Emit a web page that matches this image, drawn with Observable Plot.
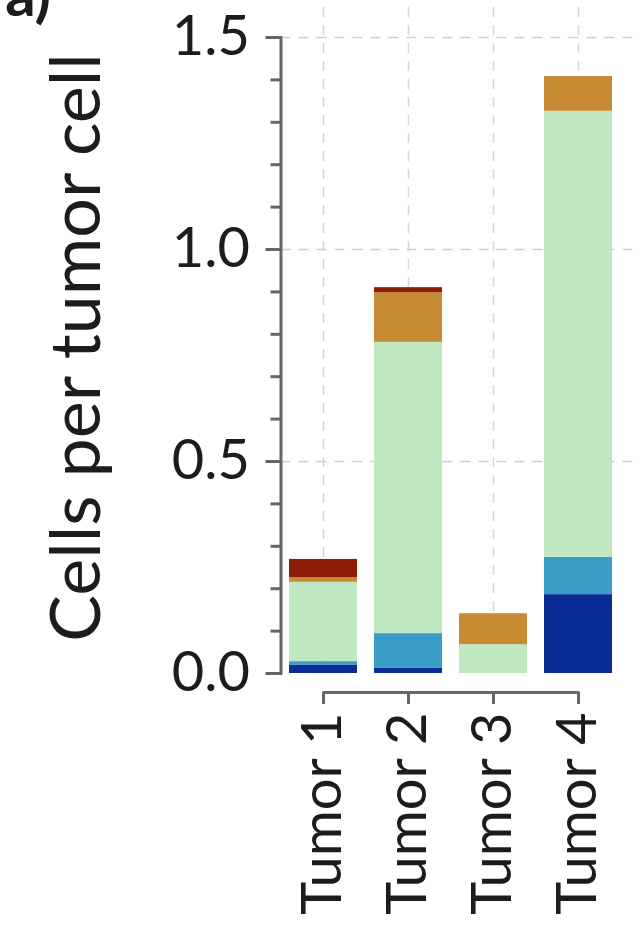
<!DOCTYPE html>
<html>
<head>
<meta charset="utf-8">
<script src="https://cdn.jsdelivr.net/npm/d3@7"></script>
<script src="https://cdn.jsdelivr.net/npm/@observablehq/plot@0.6"></script>
<style>
  html, body { margin: 0; padding: 0; background: #fff; }
  #chart { width: 642px; height: 932px; overflow: hidden; }
</style>
</head>
<body>
<div id="chart"></div>
<script>
// Tumours along the x axis
const tumors = ["Tumor 1", "Tumor 2", "Tumor 3", "Tumor 4"];

// Stacked cell groups, bottom to top, and their fills
const groups = ["A", "B", "C", "D", "E"];
const groupColors = ["#0a2c96", "#3a9dc8", "#bfe8c3", "#c68b33", "#8c1c05"];

// Cells per tumour cell for each group, one value per tumour
const groupA = [0.020, 0.013, 0.000, 0.186];
const groupB = [0.008, 0.081, 0.000, 0.088];
const groupC = [0.187, 0.687, 0.068, 1.052];
const groupD = [0.011, 0.117, 0.073, 0.082];
const groupE = [0.043, 0.012, 0.000, 0.000];

// Axis ticks and labels
const yTicks = [0, 0.5, 1.0, 1.5];
const yGrid = [0.5, 1.0, 1.5];
const yMinorTicks = [0, 0.1, 0.2, 0.3, 0.4, 0.5, 0.6, 0.7, 0.8, 0.9, 1.0, 1.1, 1.2, 1.3, 1.4, 1.5];
const yLabel = "Cells per tumor cell";
const panelLabel = "a)";

const series = [groupA, groupB, groupC, groupD, groupE];
const rows = [];
groups.forEach((g, i) => {
  tumors.forEach((t, j) => rows.push({tumor: t, group: g, value: series[i][j]}));
});

const axisColor = "#666";
const font = "Lato, 'Open Sans', sans-serif";

const chart = Plot.plot({
  width: 642,
  height: 932,
  marginTop: 37,
  marginBottom: 259,
  marginLeft: 280.5,
  marginRight: 21.5,
  style: {fontFamily: font, background: "white", color: "#1c1c1c", overflow: "visible"},
  x: {domain: tumors, paddingInner: 0.2, paddingOuter: 0.1},
  y: {domain: [0, 1.5]},
  color: {domain: groups, range: groupColors},
  marks: [
    Plot.gridY(yGrid, {stroke: "#cfcfcf", strokeOpacity: 1, strokeWidth: 1.5, strokeDasharray: "10,8", insetRight: -14}),
    Plot.gridX(tumors, {stroke: "#d6d6d6", strokeOpacity: 1, strokeWidth: 1.5, strokeDasharray: "10,8", insetTop: -30}),
    Plot.barY(rows, {x: "tumor", y: "value", fill: "group"}),
    Plot.frame({anchor: "left", stroke: axisColor, strokeWidth: 3}),
    Plot.axisY(yMinorTicks, {tickSize: 10, stroke: axisColor, strokeWidth: 3, fill: "none", label: null}),
    Plot.axisY(yTicks, {tickSize: 15, tickPadding: 16, stroke: axisColor, strokeWidth: 3,
      tickFormat: d => d.toFixed(1), fontSize: 56, label: null}),
    Plot.lineY(tumors, {x: d => d, y: 0, dy: 19, stroke: axisColor, strokeWidth: 3}),
    Plot.axisX(tumors, {tickSize: 12, tickPadding: 8, dy: 19, tickRotate: -90, stroke: axisColor,
      strokeWidth: 3, fontSize: 56, label: null}),
    Plot.text([yLabel], {text: d => d, frameAnchor: "left", textAnchor: "middle", rotate: -90,
      dx: -203, dy: -8, fontSize: 70}),
    Plot.text([panelLabel], {text: d => d, frameAnchor: "top-left", dx: -230, dy: -22,
      textAnchor: "end", lineAnchor: "bottom", fontWeight: "bold", fontSize: 60})
  ]
});

document.getElementById("chart").append(chart);
</script>
</body>
</html>
